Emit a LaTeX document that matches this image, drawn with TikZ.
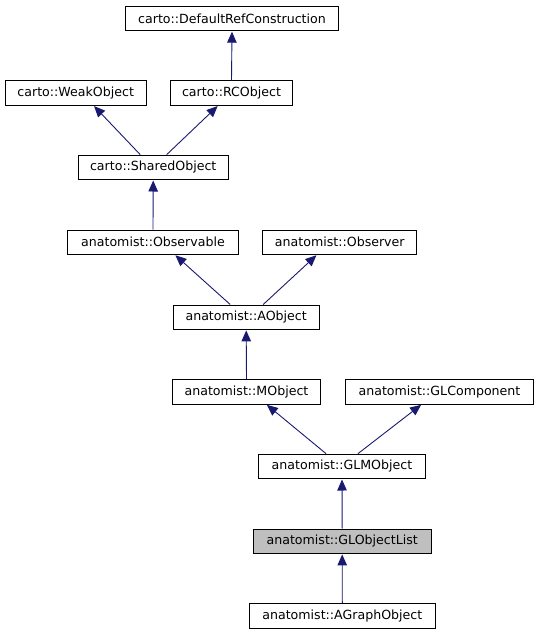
\documentclass[tikz,border=0pt]{standalone}
\usepackage{fontspec}
\setmainfont{DejaVu Sans}
\usetikzlibrary{arrows.meta}
\definecolor{edgeblue}{RGB}{25,25,112}
\definecolor{boxgray}{RGB}{191,191,191}
\tikzset{
  cls/.style={draw=black, line width=0.9pt, fill=white, minimum height=24.5pt, inner sep=0pt, font=\fontsize{12.6}{14}\selectfont, text=black},
  edge/.style={draw=edgeblue, line width=0.9pt, -{Triangle[length=11pt,width=9.5pt]}, shorten >=0.5pt}
}
\begin{document}
\begin{tikzpicture}[x=1pt,y=-1pt]
\useasboundingbox (0,0) rectangle (539,635);
\node[cls, minimum width=213.5pt] (drc) at (232,18.5) {carto::DefaultRefConstruction};
\node[cls, minimum width=141pt] (weak) at (75.7,93) {carto::WeakObject};
\node[cls, minimum width=122pt] (rc) at (231.5,93) {carto::RCObject};
\node[cls, minimum width=150pt] (shared) at (153.2,167.3) {carto::SharedObject};
\node[cls, minimum width=170.4pt] (observable) at (153,242.2) {anatomist::Observable};
\node[cls, minimum width=154pt] (observer) at (339.8,242.2) {anatomist::Observer};
\node[cls, minimum width=146pt] (aobject) at (246.2,317.2) {anatomist::AObject};
\node[cls, minimum width=148.6pt] (mobject) at (246.5,391.8) {anatomist::MObject};
\node[cls, minimum width=188pt] (glcomp) at (439.5,391.8) {anatomist::GLComponent};
\node[cls, minimum width=166.4pt] (glm) at (342,466.3) {anatomist::GLMObject};
\node[cls, minimum width=178pt, fill=boxgray] (gllist) at (342.2,541.2) {anatomist::GLObjectList};
\node[cls, minimum width=185.7pt] (agraph) at (342.3,615.7) {anatomist::AGraphObject};

\draw[edge] (rc.north) -- (drc.south);
\draw[edge] ([xshift=-13pt]shared.north) -- ([xshift=18pt]weak.south);
\draw[edge] ([xshift=13.5pt]shared.north) -- ([xshift=-13.5pt]rc.south);
\draw[edge] (observable.north) -- (shared.south);
\draw[edge] ([xshift=-16pt]aobject.north) -- ([xshift=22pt]observable.south);
\draw[edge] ([xshift=17pt]aobject.north) -- ([xshift=-23pt]observer.south);
\draw[edge] (mobject.north) -- (aobject.south);
\draw[edge] ([xshift=-16pt]glm.north) -- ([xshift=20pt]mobject.south);
\draw[edge] ([xshift=16pt]glm.north) -- ([xshift=-18pt]glcomp.south);
\draw[edge] (gllist.north) -- (glm.south);
\draw[edge] (agraph.north) -- (gllist.south);
\end{tikzpicture}
\end{document}
